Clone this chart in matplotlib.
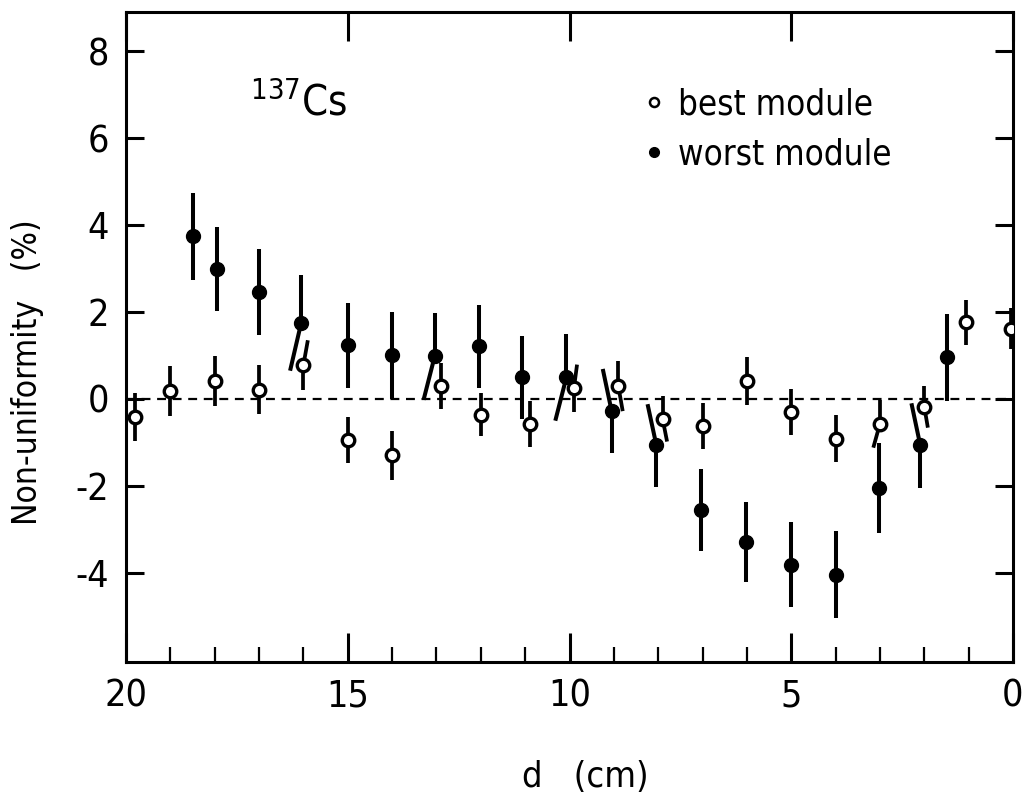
import matplotlib
matplotlib.use("Agg")
import matplotlib.pyplot as plt
from matplotlib import font_manager
from matplotlib.lines import Line2D

# data (d in cm, non-uniformity in %)
best_d = [19.8, 19.0, 18.0, 17.0, 16.0, 15.0, 14.0, 12.9, 12.0, 10.9, 9.9,
          8.9, 7.9, 7.0, 6.0, 5.0, 4.0, 3.0, 2.0, 1.05, 0.05]
best_val = [-0.41, 0.18, 0.41, 0.21, 0.78, -0.94, -1.30, 0.30, -0.36, -0.57, 0.25,
            0.30, -0.46, -0.62, 0.41, -0.30, -0.91, -0.57, -0.18, 1.76, 1.62]
best_err = [0.55, 0.58, 0.58, 0.56, 0.57, 0.53, 0.56, 0.53, 0.50, 0.53, 0.54,
            0.58, 0.52, 0.52, 0.56, 0.54, 0.54, 0.55, 0.48, 0.52, 0.48]

worst_d = [18.5, 17.95, 17.0, 16.05, 15.0, 14.0, 13.04, 12.03, 11.06, 10.07,
           9.05, 8.04, 7.03, 6.01, 5.0, 4.0, 3.02, 2.09, 1.49]
worst_val = [3.74, 2.99, 2.46, 1.75, 1.23, 1.00, 0.98, 1.21, 0.50, 0.50,
             -0.28, -1.07, -2.55, -3.29, -3.81, -4.04, -2.05, -1.07, 0.96]
worst_err = [1.00, 0.96, 0.98, 1.10, 0.98, 1.00, 1.00, 0.95, 0.95, 1.00,
             0.97, 0.95, 0.95, 0.93, 0.98, 1.00, 1.03, 0.97, 1.00]

# style: some bar halves are drawn slanted (index -> (upper shift, lower shift) in cm)
worst_tilt = {3: (0, 0.25), 6: (0, 0.25), 9: (0, 0.25), 10: (0.2, 0), 11: (0.2, 0), 17: (0.2, 0)}
best_tilt = {4: (-0.1, 0), 10: (-0.07, 0), 11: (0, -0.1), 12: (0, -0.1), 17: (0, 0.15), 18: (0, -0.08)}

available = {f.name for f in font_manager.fontManager.ttflist}
fam = "Liberation Sans Narrow" if "Liberation Sans Narrow" in available else "DejaVu Sans"
plt.rcParams['font.family'] = [fam, 'DejaVu Sans']
plt.rcParams['font.stretch'] = 'condensed'
plt.rcParams['axes.unicode_minus'] = False
plt.rcParams['mathtext.fontset'] = 'custom'
plt.rcParams['mathtext.rm'] = fam
plt.rcParams['mathtext.default'] = 'regular'


def draw_bars(ax, xs, ys, errs, tilt, lw):
    for i, (x, y, e) in enumerate(zip(xs, ys, errs)):
        tu, tl = tilt.get(i, (0, 0))
        ax.plot([x, x + tu], [y, y + e], color='black', lw=lw, solid_capstyle='butt', zorder=2)
        ax.plot([x, x + tl], [y, y - e], color='black', lw=lw, solid_capstyle='butt', zorder=2)


fig = plt.figure(figsize=(10.28, 8), dpi=100)
ax = fig.add_axes([126 / 1028, 1 - 662 / 800, 887 / 1028, 650 / 800])

ax.axhline(0, color='black', lw=1.6, dashes=(4, 3), zorder=1)

draw_bars(ax, worst_d, worst_val, worst_err, worst_tilt, 2.9)
draw_bars(ax, best_d, best_val, best_err, best_tilt, 2.7)
ax.plot(worst_d, worst_val, 'o', color='black', ms=10, zorder=3)
ax.plot(best_d, best_val, 'o', mfc='white', mec='black', mew=2.4, ms=9, zorder=3)

ax.set_xlim(20, 0)
ax.set_ylim(-6.05, 8.9)
ax.set_xticks([20, 15, 10, 5, 0])
ax.set_xticks(range(1, 20), minor=True)
ax.set_yticks([-4, -2, 0, 2, 4, 6, 8])
ax.tick_params(axis='x', which='major', direction='in', length=21, width=2.2,
               top=True, labelsize=27, pad=12)
ax.tick_params(axis='x', which='minor', direction='in', length=11, width=1.6, top=False)
ax.tick_params(axis='y', which='major', direction='in', length=13, width=2.2,
               right=True, labelsize=27, pad=12)
for s in ax.spines.values():
    s.set_linewidth(2.2)

ax.text(0.14, 0.86, r'$^{137}$Cs', transform=ax.transAxes, fontsize=30, va='center')

handles = [Line2D([], [], ls='none', marker='o', mfc='white', mec='black', mew=1.8, ms=6.5),
           Line2D([], [], ls='none', marker='o', color='black', ms=7)]
ax.legend(handles, ['best module', 'worst module'], loc='upper left',
          bbox_to_anchor=(0.57, 0.905), frameon=False, fontsize=25,
          handlelength=0.5, handletextpad=0.45, labelspacing=0.45, borderaxespad=0)

fig.text(585 / 1028, 1 - 777 / 800, 'd   (cm)', fontsize=26, ha='center', va='center')
fig.text(28 / 1028, 1 - 372 / 800, 'Non-uniformity   (%)', fontsize=24,
         ha='center', va='center', rotation=90)

fig.savefig('out.png', dpi=100)
